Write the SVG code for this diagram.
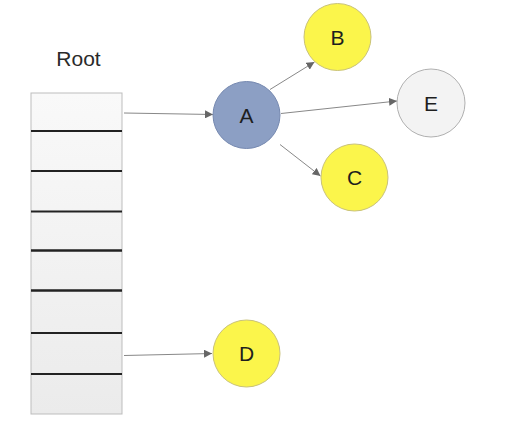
<svg xmlns="http://www.w3.org/2000/svg" width="512" height="422" viewBox="0 0 512 422">
<defs>
<linearGradient id="rootGrad" x1="0" y1="0" x2="0" y2="1">
<stop offset="0" stop-color="#f9f9f9"/>
<stop offset="1" stop-color="#ebebeb"/>
</linearGradient>
<marker id="arr" viewBox="0 0 10 10" refX="10" refY="5" markerWidth="8" markerHeight="8" markerUnits="userSpaceOnUse" orient="auto">
<path d="M0,0 L10,5 L0,10 z" fill="#666"/>
</marker>
</defs>
<style>
.lbl{font-family:"Liberation Sans",Arial,sans-serif;font-size:21px;fill:#1e1e1e;text-anchor:middle;dominant-baseline:central}
.edge{stroke:#888;stroke-width:1;fill:none;marker-end:url(#arr)}
.yellow{fill:#fbf54b;stroke:#c9c27a;stroke-width:1}
.div{stroke:#222;stroke-width:2}
</style>
<rect width="512" height="422" fill="#ffffff"/>
<g id="root">
<text x="78.5" y="58" class="lbl" style="fill:#2a2a2a">Root</text>
<rect x="31" y="93" width="91" height="321" fill="url(#rootGrad)" stroke="#bdbdbd" stroke-width="1"/>
<line class="div" x1="31" y1="131" x2="122" y2="131"/>
<line class="div" x1="31" y1="171" x2="122" y2="171"/>
<line class="div" x1="31" y1="211.5" x2="122" y2="211.5"/>
<line class="div" x1="31" y1="250.5" x2="122" y2="250.5" style="stroke-width:2.5"/>
<line class="div" x1="31" y1="290.5" x2="122" y2="290.5" style="stroke-width:2.5"/>
<line class="div" x1="31" y1="333" x2="122" y2="333"/>
<line class="div" x1="31" y1="374" x2="122" y2="374"/>
</g>
<g id="connectors">
<line class="edge" x1="124" y1="113" x2="213" y2="114.5"/>
<line class="edge" x1="124" y1="355.5" x2="212" y2="353.5"/>
<line class="edge" x1="270" y1="89.5" x2="314.5" y2="62"/>
<line class="edge" x1="281" y1="113.5" x2="397" y2="101"/>
<line class="edge" x1="280" y1="144.5" x2="320.5" y2="176"/>
</g>
<g id="node-A">
<circle cx="246.5" cy="115" r="33.5" fill="#8c9fc4" stroke="#7689b0" stroke-width="1"/>
<text x="246.5" y="115" class="lbl">A</text>
</g>
<g id="node-B">
<circle cx="337.5" cy="37" r="33.5" class="yellow"/>
<text x="337.5" y="37" class="lbl">B</text>
</g>
<g id="node-E">
<circle cx="431" cy="103" r="34" fill="#f3f3f3" stroke="#b0b0b0" stroke-width="1"/>
<text x="431" y="103" class="lbl">E</text>
</g>
<g id="node-C">
<circle cx="354.5" cy="177.5" r="33.5" class="yellow"/>
<text x="354.5" y="177.5" class="lbl">C</text>
</g>
<g id="node-D">
<circle cx="246.5" cy="353.5" r="33.5" class="yellow"/>
<text x="246.5" y="353.5" class="lbl">D</text>
</g>
</svg>
